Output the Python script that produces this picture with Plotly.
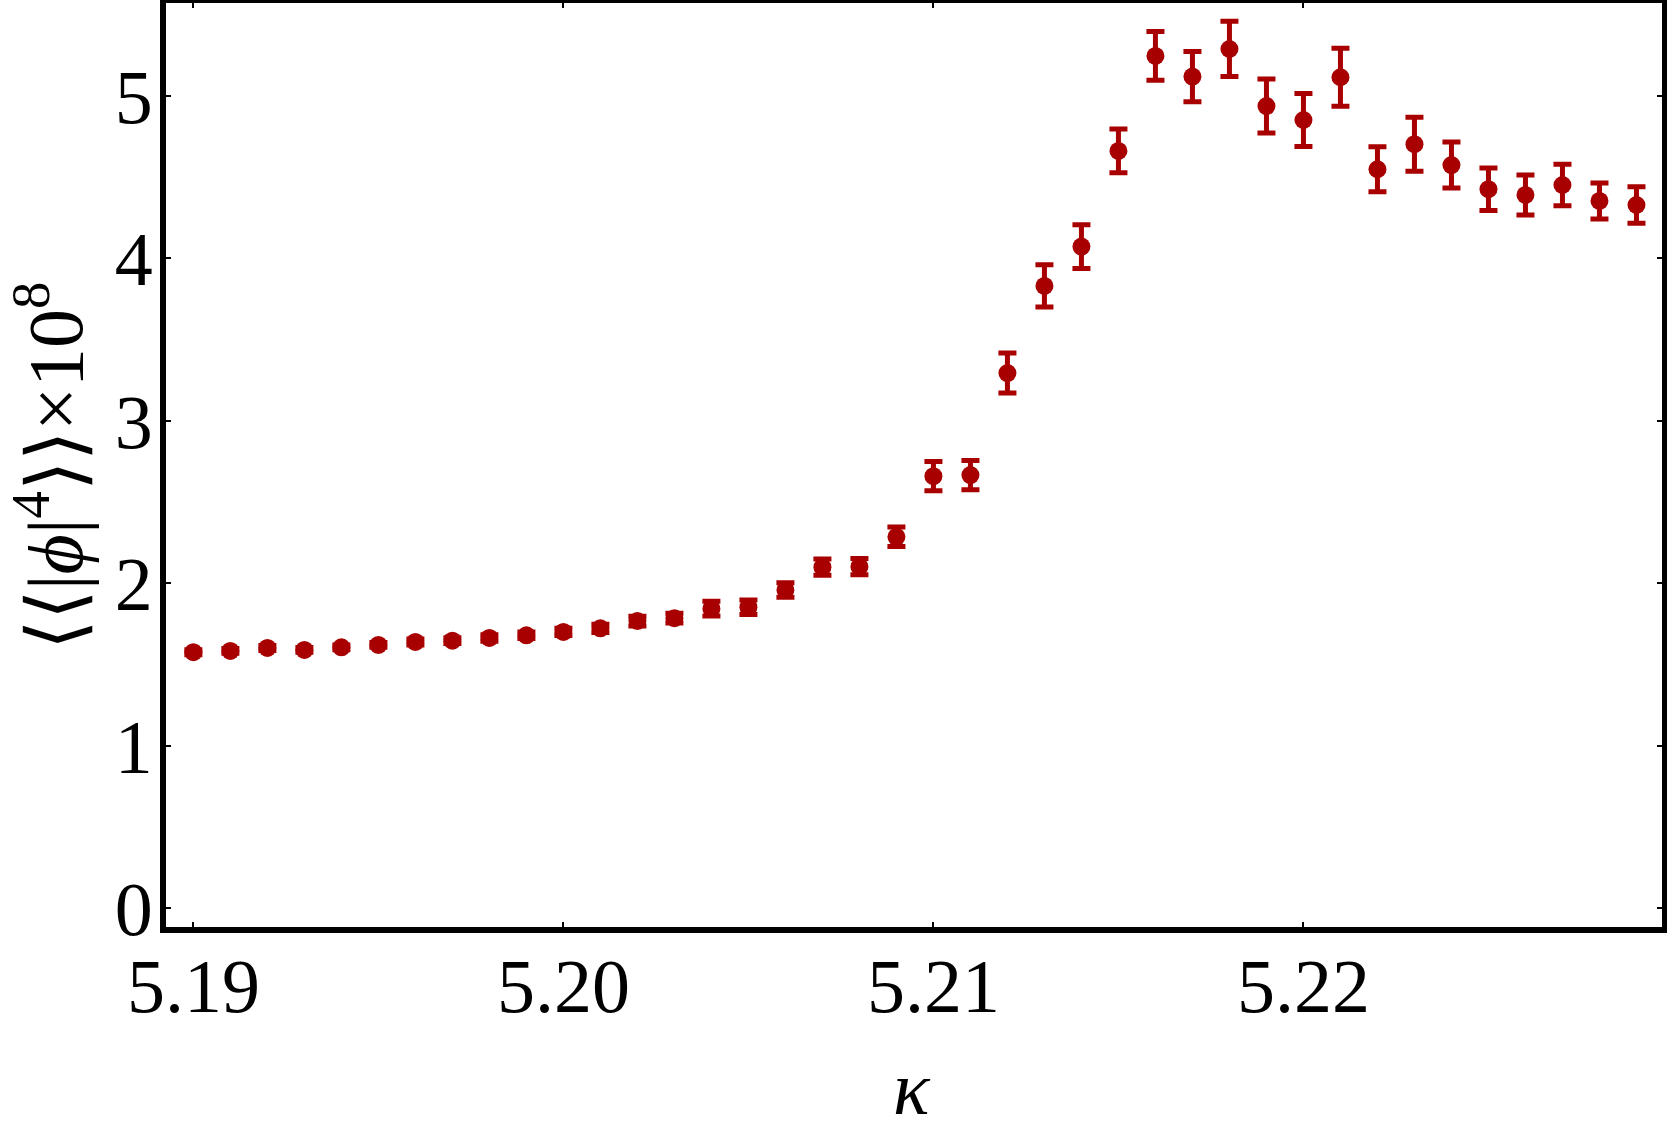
import plotly.graph_objects as go

kappa = [5.190, 5.191, 5.192, 5.193, 5.194, 5.195, 5.196, 5.197, 5.198, 5.199,
         5.200, 5.201, 5.202, 5.203, 5.204, 5.205, 5.206, 5.207, 5.208, 5.209,
         5.210, 5.211, 5.212, 5.213, 5.214, 5.215, 5.216, 5.217, 5.218, 5.219,
         5.220, 5.221, 5.222, 5.223, 5.224, 5.225, 5.226, 5.227, 5.228, 5.229]

phi4 = [1.577, 1.585, 1.603, 1.591, 1.607, 1.622, 1.640, 1.648, 1.665, 1.681,
        1.702, 1.724, 1.769, 1.786, 1.845, 1.854, 1.960, 2.100, 2.103, 2.287,
        2.660, 2.667, 3.295, 3.831, 4.073, 4.662, 5.246, 5.119, 5.289, 4.938,
        4.852, 5.115, 4.549, 4.703, 4.575, 4.426, 4.391, 4.452, 4.354, 4.329]

phi4_err = [0.015, 0.015, 0.015, 0.015, 0.015, 0.015, 0.018, 0.018, 0.02, 0.02,
            0.022, 0.025, 0.03, 0.03, 0.045, 0.045, 0.045, 0.05, 0.05, 0.06,
            0.09, 0.09, 0.123, 0.13, 0.135, 0.135, 0.15, 0.154, 0.17, 0.166,
            0.163, 0.178, 0.138, 0.166, 0.142, 0.131, 0.123, 0.127, 0.111, 0.113]

x_ticks = [5.19, 5.20, 5.21, 5.22]
x_tick_text = ["5.19", "5.20", "5.21", "5.22"]
y_ticks = [0, 1, 2, 3, 4, 5]

RED = "#a80000"
FONT = "Liberation Serif"

fig = go.Figure()
fig.add_trace(go.Scatter(
    x=kappa, y=phi4, mode="markers",
    marker=dict(color=RED, size=18, line=dict(width=0)),
    error_y=dict(type="data", array=phi4_err, visible=True,
                 color=RED, thickness=5, width=9),
    showlegend=False,
))

axis_common = dict(
    showline=True, linecolor="black", linewidth=6, mirror="ticks",
    ticks="inside", ticklen=5, tickwidth=2, tickcolor="black",
    showgrid=False, zeroline=False, automargin=False,
    tickfont=dict(family=FONT, size=76, color="black"),
)

fig.update_layout(
    width=1667, height=1134, autosize=False,
    paper_bgcolor="white", plot_bgcolor="white",
    margin=dict(l=166, r=5, t=3, b=207),
    xaxis=dict(range=[5.18926, 5.22969], tickvals=x_ticks, ticktext=x_tick_text,
               ticklabelstandoff=-12, **axis_common),
    yaxis=dict(range=[-0.114, 5.572], tickvals=y_ticks,
               ticklabelstandoff=-8, **axis_common),
    annotations=[
        dict(text="⟨⟨|<i>ϕ</i>|<sup>4</sup>⟩⟩×10<sup>8</sup>", textangle=-90,
             xref="paper", yref="paper", x=(50 - 166) / 1496, y=(927 - 466) / 924,
             xanchor="center", yanchor="middle", showarrow=False,
             font=dict(family=FONT, size=78, color="black")),
        dict(text="<i>κ</i>", xref="paper", yref="paper",
             x=(912 - 166) / 1496, y=(927 - 1088) / 924,
             xanchor="center", yanchor="middle", showarrow=False,
             font=dict(family=FONT, size=76, color="black")),
    ],
)

fig.write_html(
    "out.html",
    config={"displayModeBar": False},
    post_script="document.body.style.margin='0';document.body.style.overflow='hidden';",
)
